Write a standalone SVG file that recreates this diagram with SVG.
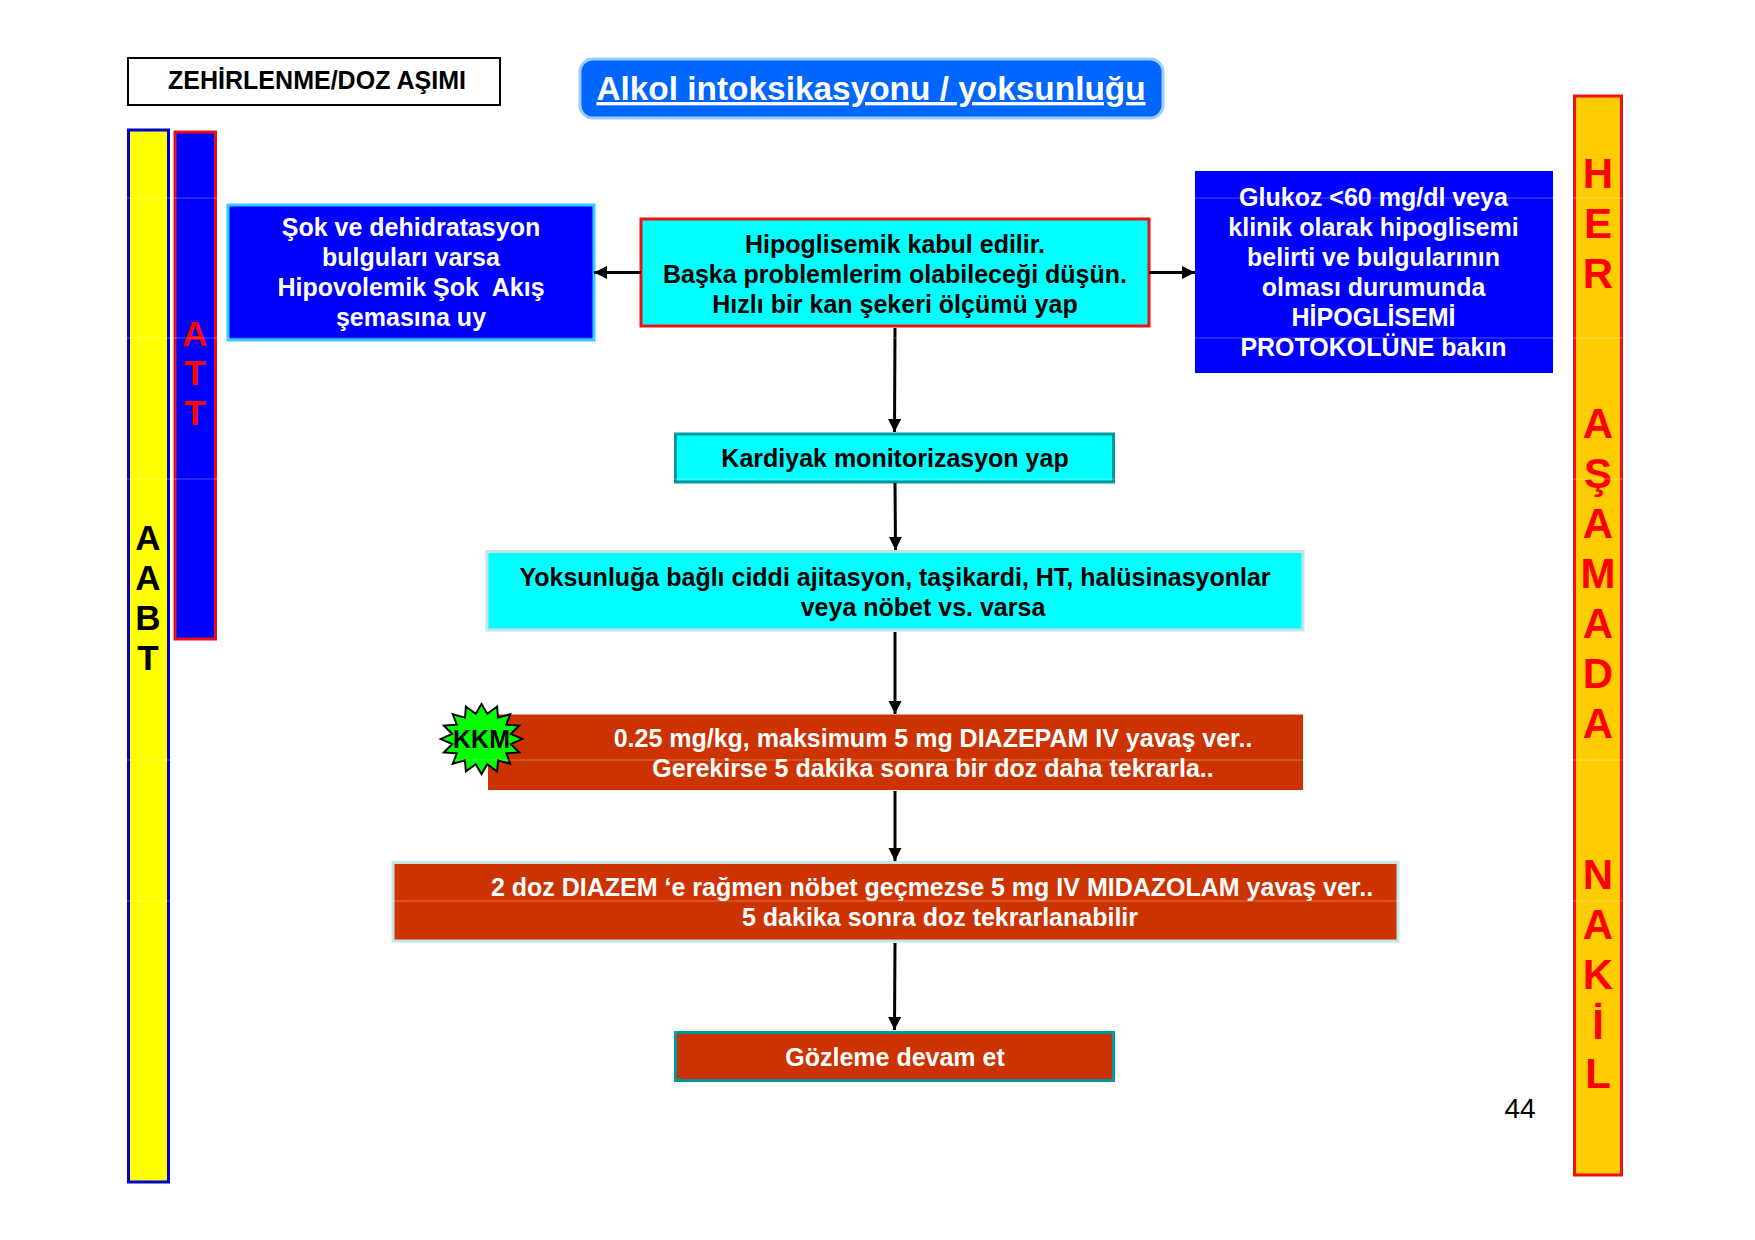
<svg xmlns="http://www.w3.org/2000/svg" width="1755" height="1240" viewBox="0 0 1755 1240">
<style>
text{font-family:"Liberation Sans",Arial,sans-serif;font-weight:700;text-anchor:middle}
.t{font-size:25px}
.w{fill:#fff}
.k{fill:#000}
.conn{stroke:#000;stroke-width:3;fill:none;marker-end:url(#ah)}
.rule{stroke:#fff;stroke-width:1;opacity:.3}
.big{font-size:42px;fill:#f00}
</style>
<defs>
<marker id="ah" markerUnits="userSpaceOnUse" markerWidth="14" markerHeight="14" refX="13" refY="6.5" orient="auto"><path d="M0 0L13 6.5L0 13L0 0Z" fill="#000"/></marker>
</defs>
<rect width="1755" height="1240" fill="#fff"/>
<g id="header-left"><rect x="128" y="58" width="372" height="47" fill="#fff" stroke="#000" stroke-width="2"/><text x="317" y="89" class="t k" textLength="298" lengthAdjust="spacingAndGlyphs">ZEHİRLENME/DOZ AŞIMI</text></g>
<g id="title"><rect x="580" y="59" width="583" height="59" rx="13" fill="#0066ff" stroke="#99ccff" stroke-width="3"/><text x="871" y="100" font-size="33.400" class="w" text-decoration="underline">Alkol intoksikasyonu / yoksunluğu</text></g>
<g id="aabt"><rect x="128.500" y="130" width="40" height="1052" fill="#ffff00" stroke="#0000cc" stroke-width="3"/><text class="k" font-size="35"><tspan x="148" y="550">A</tspan><tspan x="148" y="590">A</tspan><tspan x="148" y="630">B</tspan><tspan x="148" y="670">T</tspan></text></g>
<g id="att"><rect x="175" y="132" width="40.500" height="507" fill="#0000ff" stroke="#e81010" stroke-width="3"/><text fill="#f00" font-size="35"><tspan x="195" y="346">A</tspan><tspan x="195" y="385">T</tspan><tspan x="195" y="425">T</tspan></text></g>
<g id="her"><rect x="1574.500" y="96" width="47" height="1079" fill="#ffcc00" stroke="#f01010" stroke-width="3"/><text class="big"><tspan x="1598" y="188">H</tspan><tspan x="1598" y="238">E</tspan><tspan x="1598" y="288">R</tspan><tspan x="1598" y="438">A</tspan><tspan x="1598" y="488">Ş</tspan><tspan x="1598" y="538">A</tspan><tspan x="1598" y="588">M</tspan><tspan x="1598" y="638">A</tspan><tspan x="1598" y="688">D</tspan><tspan x="1598" y="738">A</tspan><tspan x="1598" y="889">N</tspan><tspan x="1598" y="939">A</tspan><tspan x="1598" y="989">K</tspan><tspan x="1598" y="1039">İ</tspan><tspan x="1598" y="1088">L</tspan></text></g>
<g id="shock"><rect x="228" y="205" width="366" height="135" fill="#0000ff" stroke="#33ccff" stroke-width="3"/><text class="t w"><tspan x="411" y="236">Şok ve dehidratasyon</tspan><tspan x="411" y="266">bulguları varsa</tspan><tspan x="411" y="296" xml:space="preserve">Hipovolemik Şok  Akış</tspan><tspan x="411" y="326">şemasına uy</tspan></text></g>
<g id="hypo"><rect x="641" y="219" width="508" height="107" fill="#00ffff" stroke="#ee1111" stroke-width="3"/><text class="t k"><tspan x="895" y="253">Hipoglisemik kabul edilir.</tspan><tspan x="895" y="282.500">Başka problemlerim olabileceği düşün.</tspan><tspan x="895" y="312.500">Hızlı bir kan şekeri ölçümü yap</tspan></text></g>
<g id="glucose"><rect x="1195" y="171" width="358" height="202" fill="#0000ff"/><text class="t w"><tspan x="1373.500" y="206">Glukoz &lt;60 mg/dl veya</tspan><tspan x="1373.500" y="236">klinik olarak hipoglisemi</tspan><tspan x="1373.500" y="266">belirti ve bulgularının</tspan><tspan x="1373.500" y="296">olması durumunda</tspan><tspan x="1373.500" y="326">HİPOGLİSEMİ</tspan><tspan x="1373.500" y="356">PROTOKOLÜNE bakın</tspan></text></g>
<g id="cardiac"><rect x="675.500" y="434" width="438" height="48" fill="#00ffff" stroke="#009999" stroke-width="3"/><text x="895" y="467" class="t k">Kardiyak monitorizasyon yap</text></g>
<g id="withdrawal"><rect x="487" y="551.500" width="816" height="78.500" fill="#00ffff" stroke="#c4e4e8" stroke-width="3"/><text class="t k"><tspan x="895" y="585.500">Yoksunluğa bağlı ciddi ajitasyon, taşikardi, HT, halüsinasyonlar</tspan><tspan x="923" y="615.500">veya nöbet vs. varsa</tspan></text></g>
<g id="diazepam"><rect x="488" y="714.500" width="815" height="75.500" fill="#cc3300"/><text class="t w"><tspan x="933" y="747">0.25 mg/kg, maksimum 5 mg DIAZEPAM IV yavaş ver..</tspan><tspan x="933" y="777">Gerekirse 5 dakika sonra bir doz daha tekrarla..</tspan></text></g>
<g id="midazolam"><rect x="393" y="862.500" width="1005" height="78.500" fill="#cc3300" stroke="#c4e4e8" stroke-width="3"/><text class="t w"><tspan x="932" y="896">2 doz DIAZEM ‘e rağmen nöbet geçmezse 5 mg IV MIDAZOLAM yavaş ver..</tspan><tspan x="940" y="926">5 dakika sonra doz tekrarlanabilir</tspan></text></g>
<g id="observe"><rect x="675.500" y="1032.500" width="438" height="48" fill="#cc3300" stroke="#009999" stroke-width="3"/><text x="895" y="1066" class="t w">Gözleme devam et</text></g>
<g id="connectors">
<path class="conn" d="M641 272.500H594"/>
<path class="conn" d="M1149 272.500H1195"/>
<path class="conn" d="M895 328L894.500 432"/>
<path class="conn" d="M895 483L895.500 550"/>
<path class="conn" d="M895 632V714"/>
<path class="conn" d="M895 791V861"/>
<path class="conn" d="M895 943L894.500 1030"/>
</g>
<g id="kkm" transform="translate(481.500,739)"><polygon transform="scale(.96,.95)" points="42.5,0 30.4,5.3 39.3,14.2 25.8,15 30,26.2 17.2,22.4 16.3,34.2 6,26.5 0,37 -6,26.5 -16.3,34.2 -17.2,22.4 -30,26.2 -25.8,15 -39.3,14.2 -30.4,5.3 -42.5,0 -30.4,-5.3 -39.3,-14.2 -25.800,-15 -30,-26.2 -17.2,-22.4 -16.3,-34.2 -6,-26.5 0,-37 6,-26.5 16.3,-34.2 17.2,-22.4 30,-26.2 25.8,-15 39.3,-14.2 30.4,-5.3" fill="#00ff00" stroke="#000" stroke-width="2"/><text y="9" class="t k" x="0">KKM</text></g>
<text x="1520" y="1118" font-size="28" style="font-weight:400;fill:#000">44</text>
<g id="rules">
<path class="rule" d="M0 198H1755M0 338H1755M0 479H1755M0 760H1755M0 901H1755"/>
</g>
</svg>
